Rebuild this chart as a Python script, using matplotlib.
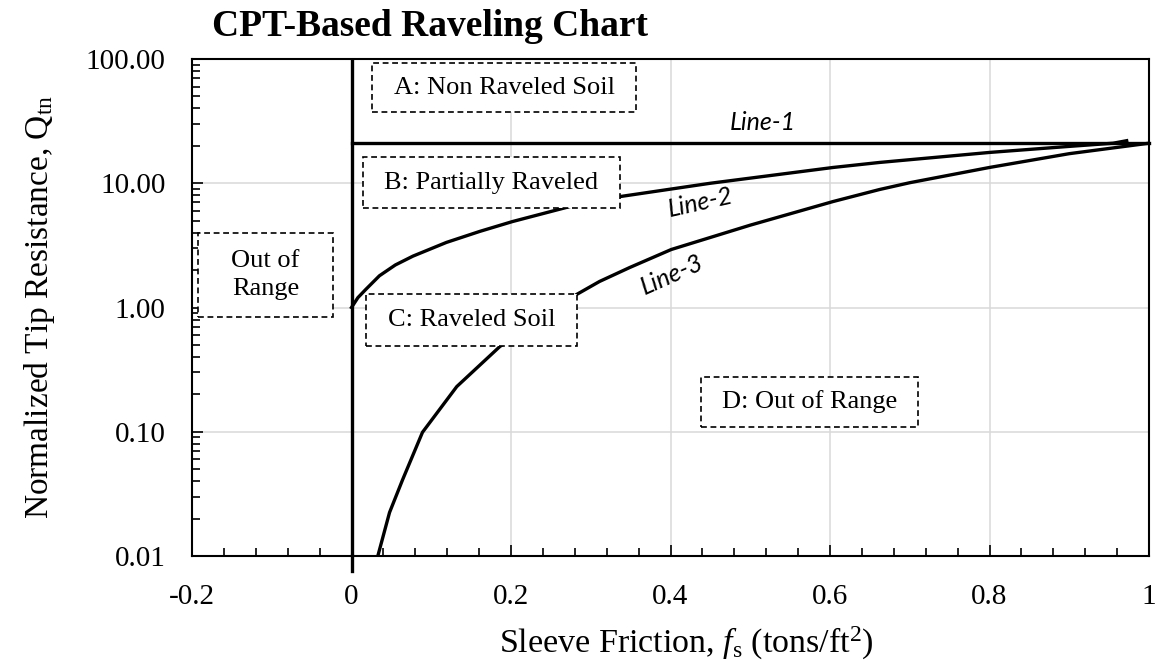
import numpy as np
import matplotlib
matplotlib.use("Agg")
import matplotlib.pyplot as plt
from matplotlib.patches import Rectangle
from matplotlib.ticker import FixedLocator, LogLocator, NullFormatter, FuncFormatter

plt.rcParams["font.family"] = ["Liberation Serif", "DejaVu Serif"]
plt.rcParams["mathtext.fontset"] = "custom"
plt.rcParams["mathtext.rm"] = "Liberation Serif"
plt.rcParams["mathtext.it"] = "Liberation Serif:italic"

# boundary lines
line1_x = [0.0, 1.0]
line1_y = [21.0, 21.0]

line2_x = [0.0, 0.008, 0.018, 0.035, 0.055, 0.077, 0.119, 0.161, 0.202, 0.274, 0.336, 0.45, 0.604, 0.662, 0.8, 0.9, 0.955, 0.972]
line2_y = [1.0, 1.2, 1.40, 1.80, 2.2, 2.59, 3.34, 4.1, 4.92, 6.5, 7.8, 10.0, 13.4, 14.7, 17.7, 19.8, 21.0, 22.0]

line3_x = [0.033, 0.0477, 0.064, 0.089, 0.132, 0.186, 0.24, 0.282, 0.311, 0.349, 0.401, 0.5, 0.604, 0.662, 0.7, 0.8, 0.9, 1.0]
line3_y = [0.01, 0.0224, 0.041, 0.099, 0.231, 0.485, 0.85, 1.27, 1.62, 2.1, 2.93, 4.6, 7.13, 8.9, 10.1, 13.4, 17.3, 21.0]

axis0_x = [0.0, 0.0]
axis0_y = [0.01, 100.0]

W, H = 1171, 660
fig = plt.figure(figsize=(W / 100, H / 100), dpi=100)
ax = fig.add_axes([192 / W, 1 - 556 / H, (1149 - 192) / W, (556 - 59) / H])

ax.set_xlim(-0.2, 1.0)
ax.set_yscale("log")
ax.set_ylim(0.01, 100)

ax.xaxis.set_major_locator(FixedLocator([-0.2, 0, 0.2, 0.4, 0.6, 0.8, 1.0]))
ax.xaxis.set_minor_locator(FixedLocator(np.arange(-0.2, 1.0001, 0.04)))
ax.xaxis.set_major_formatter(FuncFormatter(lambda v, p: "0" if abs(v) < 1e-9 else ("1" if abs(v - 1) < 1e-9 else f"{v:.1f}")))
ax.yaxis.set_major_locator(FixedLocator([0.01, 0.1, 1, 10, 100]))
ax.yaxis.set_minor_locator(LogLocator(base=10, subs=np.arange(2, 10)))
ax.yaxis.set_minor_formatter(NullFormatter())
ax.yaxis.set_major_formatter(FuncFormatter(lambda v, p: f"{v:.2f}"))

ax.tick_params(which="major", direction="in", length=8, width=1.2, labelsize=21)
ax.tick_params(which="minor", direction="in", length=5.5, width=1.2)
ax.tick_params(axis="x", which="major", pad=20)
ax.tick_params(axis="y", which="major", pad=19)
for s in ax.spines.values():
    s.set_linewidth(1.5)

ax.grid(True, which="major", color="#d9d9d9", lw=1.1)
ax.set_axisbelow(True)

lw = 2.4
ax.plot(axis0_x, axis0_y, color="black", lw=lw, zorder=3)
ax.plot([0, 0], [10 ** -2.12, 0.01], color="black", lw=lw, clip_on=False, zorder=3)
ax.plot(line1_x, line1_y, color="black", lw=lw, zorder=3, clip_on=False)
ax.plot(line2_x, line2_y, color="black", lw=lw, zorder=3)
ax.plot(line3_x, line3_y, color="black", lw=lw, zorder=3)

lab = dict(family=["Lato", "DejaVu Sans"], style="italic", fontsize=18, ha="center", va="center")
fig.text(763 / W, 1 - 122 / H, "Line-1", **lab)
fig.text(700 / W, 1 - 203 / H, "Line-2", rotation=12.5, **lab)
fig.text(672 / W, 1 - 275 / H, "Line-3", rotation=24, **lab)


def zone_box(x0, y0, x1, y1, text):
    r = Rectangle((x0 / W, 1 - y1 / H), (x1 - x0) / W, (y1 - y0) / H,
                  transform=fig.transFigure, facecolor="white", edgecolor="black",
                  lw=1.2, ls=(0, (3.5, 2.2)), zorder=5)
    fig.add_artist(r)
    fig.text((x0 + x1) / 2 / W, 1 - (y0 + y1) / 2 / H, text, ha="center", va="center",
             fontsize=19, linespacing=1.3, zorder=6)


zone_box(372, 63, 636, 112, "A: Non Raveled Soil")
zone_box(363, 157, 620, 208, "B: Partially Raveled")
zone_box(198, 233, 333, 317, "Out of\nRange")
zone_box(366, 294, 577, 346, "C: Raveled Soil")
zone_box(701, 377, 918, 427, "D: Out of Range")

fig.text(212 / W, 1 - 36 / H, "CPT-Based Raveling Chart", ha="left", va="baseline",
         fontsize=27, fontweight="bold")
fig.text(40 / W, 1 - 307 / H, r"Normalized Tip Resistance, Q$_{\mathrm{tn}}$", rotation=90,
         ha="center", va="center", fontsize=24)
fig.text(686 / W, 1 - 653 / H, r"Sleeve Friction, $\mathit{f}_{\mathrm{s}}$ (tons/ft$^{2}$)",
         ha="center", va="baseline", fontsize=24.5)

fig.savefig("out.png", dpi=100)
